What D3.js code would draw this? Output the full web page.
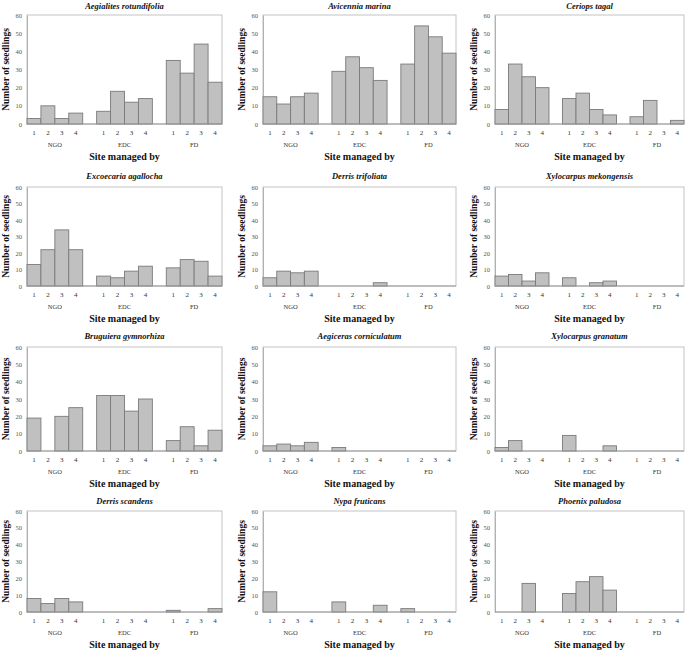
<!DOCTYPE html>
<html>
<head>
<meta charset="utf-8">
<script src="https://cdn.jsdelivr.net/npm/d3@7"></script>
<style>
  body { margin: 0; background: #fff; }
  svg { display: block; }
  text { font-family: "Liberation Serif", "Times New Roman", serif; }
</style>
</head>
<body>
<svg id="chart" width="685" height="650"></svg>
<script>
// site groups and plot numbers along the x axis
const groups = ["NGO", "EDC", "FD"]
const sites = ["1", "2", "3", "4"]
const yTicks = [0, 10, 20, 30, 40, 50, 60]

// number of seedlings, NGO 1-4, EDC 1-4, FD 1-4
const aegialites = [3, 10, 3, 6, 7, 18, 12, 14, 35, 28, 44, 23]
const avicennia = [15, 11, 15, 17, 29, 37, 31, 24, 33, 54, 48, 39]
const ceriops = [8, 33, 26, 20, 14, 17, 8, 5, 4, 13, 0, 2]
const excoecaria = [13, 22, 34, 22, 6, 5, 9, 12, 11, 16, 15, 6]
const derrisTrifoliata = [5, 9, 8, 9, 0, 0, 0, 2, 0, 0, 0, 0]
const xyloMekongensis = [6, 7, 3, 8, 5, 0, 2, 3, 0, 0, 0, 0]
const bruguiera = [19, 0, 20, 25, 32, 32, 23, 30, 6, 14, 3, 12]
const aegiceras = [3, 4, 3, 5, 2, 0, 0, 0, 0, 0, 0, 0]
const xyloGranatum = [2, 6, 0, 0, 9, 0, 0, 3, 0, 0, 0, 0]
const derrisScandens = [8, 5, 8, 6, 0, 0, 0, 0, 1, 0, 0, 2]
const nypa = [12, 0, 0, 0, 6, 0, 0, 4, 2, 0, 0, 0]
const phoenix = [0, 0, 17, 0, 11, 18, 21, 13, 0, 0, 0, 0]

const species = [
  "Aegialites rotundifolia", "Avicennia marina", "Ceriops tagal",
  "Excoecaria agallocha", "Derris trifoliata", "Xylocarpus mekongensis",
  "Bruguiera gymnorhiza", "Aegiceras corniculatum", "Xylocarpus granatum",
  "Derris scandens", "Nypa fruticans", "Phoenix paludosa"
]
const seriesValues = [
  aegialites, avicennia, ceriops,
  excoecaria, derrisTrifoliata, xyloMekongensis,
  bruguiera, aegiceras, xyloGranatum,
  derrisScandens, nypa, phoenix
]

// panel layout (pixels)
const cols = [
  {left: 27, right: 222, yTitle: 6},
  {left: 263, right: 456, yTitle: 242},
  {left: 495, right: 684, yTitle: 474}
]
const rows = [
  {title: 6, top: 15, bottom: 124},
  {title: 176, top: 187, bottom: 286},
  {title: 336, top: 347, bottom: 451},
  {title: 501, top: 511, bottom: 612}
]

const svg = d3.select("#chart")

// slot keys: 4 sites per group with one empty slot between groups
const slots = []
groups.forEach((g, gi) => {
  sites.forEach(s => slots.push(g + "-" + s))
  if (gi < groups.length - 1) slots.push("gap" + gi)
})

function drawPanel (i) {
  const col = cols[i % 3]
  const row = rows[Math.floor(i / 3)]
  const values = seriesValues[i]

  const x = d3.scaleBand()
      .domain(slots)
      .range([col.left, col.right])
      .padding(0)
  const y = d3.scaleLinear()
      .domain([0, 60])
      .range([row.bottom, row.top])

  const data = []
  groups.forEach((g, gi) => {
    sites.forEach((s, si) => {
      data.push({key: g + "-" + s, group: g, site: s, value: values[gi * 4 + si]})
    })
  })

  const g = svg.append("g").attr("class", "panel")

  // plot frame
  g.append("rect")
      .attr("x", col.left)
      .attr("y", row.top)
      .attr("width", col.right - col.left)
      .attr("height", row.bottom - row.top)
      .attr("fill", "none")
      .attr("stroke", "#c4c4c4")
      .attr("stroke-width", 1)

  // y axis
  const yAxis = g.append("g")
      .attr("transform", `translate(${col.left},0)`)
      .call(d3.axisLeft(y).tickValues(yTicks).tickSize(0).tickPadding(5))
  yAxis.select(".domain").attr("stroke", "#b0b0b0")
  yAxis.selectAll("text")
      .attr("font-size", 6.5)
      .attr("fill", "#555")
      .style("font-family", "'Liberation Serif', serif")

  // bars
  g.selectAll(".bar")
    .data(data.filter(d => d.value > 0))
    .enter()
    .append("rect")
      .attr("class", "bar")
      .attr("x", d => x(d.key))
      .attr("y", d => y(d.value))
      .attr("width", x.bandwidth())
      .attr("height", d => y(0) - y(d.value))
      .attr("fill", "#c0c0c0")
      .attr("stroke", "#7a7a7a")
      .attr("stroke-width", 0.9)

  // x axis line
  g.append("line")
      .attr("x1", col.left)
      .attr("x2", col.right)
      .attr("y1", y(0))
      .attr("y2", y(0))
      .attr("stroke", "#999")

  // site numbers
  g.selectAll(".site")
    .data(data)
    .enter()
    .append("text")
      .attr("class", "site")
      .attr("x", d => x(d.key) + x.bandwidth() / 2)
      .attr("y", y(0) + 11)
      .attr("text-anchor", "middle")
      .attr("font-size", 7)
      .attr("fill", "#333")
      .text(d => d.site)

  // group labels
  g.selectAll(".group")
    .data(groups)
    .enter()
    .append("text")
      .attr("class", "group")
      .attr("x", d => (x(d + "-1") + x(d + "-4") + x.bandwidth()) / 2)
      .attr("y", y(0) + 23)
      .attr("text-anchor", "middle")
      .attr("font-size", 6.5)
      .attr("fill", "#333")
      .text(d => d)

  // x title
  g.append("text")
      .attr("x", (col.left + col.right) / 2)
      .attr("y", y(0) + 36)
      .attr("text-anchor", "middle")
      .attr("font-size", 10)
      .attr("font-weight", "bold")
      .attr("fill", "#111")
      .text("Site managed by")

  // y title
  g.append("text")
      .attr("transform", `translate(${col.yTitle + 3},${(row.top + row.bottom) / 2}) rotate(-90)`)
      .attr("text-anchor", "middle")
      .attr("font-size", 9.5)
      .attr("font-weight", "bold")
      .attr("fill", "#111")
      .text("Number of seedlings")

  // species title
  g.append("text")
      .attr("x", (col.left + col.right) / 2)
      .attr("y", row.title + 3)
      .attr("text-anchor", "middle")
      .attr("font-size", 8.5)
      .attr("font-weight", "bold")
      .attr("font-style", "italic")
      .attr("fill", "#111")
      .text(species[i])
}

species.forEach((s, i) => drawPanel(i))
</script>
</body>
</html>
